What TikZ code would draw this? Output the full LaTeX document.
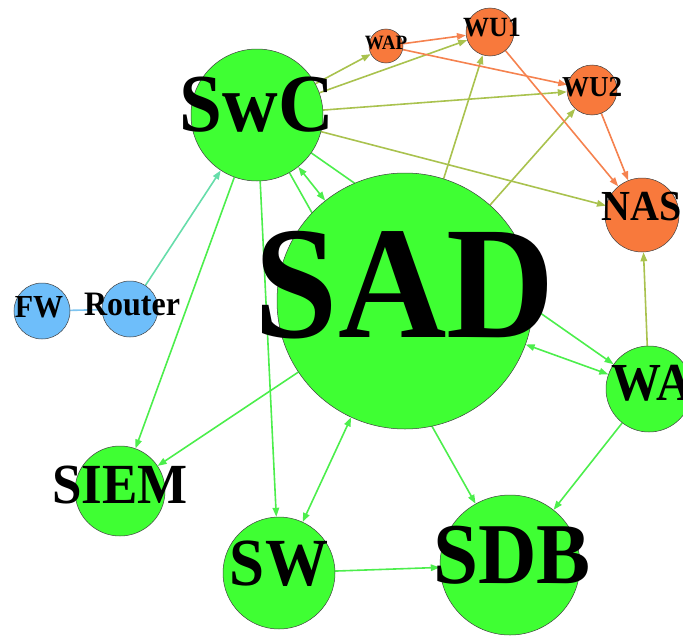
\documentclass[tikz,border=0pt]{standalone}
\usepackage{fontspec}
\setmainfont{Liberation Serif}
\usepackage{tikz}
\usetikzlibrary{arrows.meta, backgrounds}
\definecolor{nodeGreen}{HTML}{3FFF33}
\definecolor{nodeOrange}{HTML}{F8793C}
\definecolor{nodeBlue}{HTML}{6EBEFA}
\definecolor{edgeGreen}{HTML}{4CEE4C}
\definecolor{edgeOlive}{HTML}{A9C24E}
\definecolor{edgeOrange}{HTML}{F5824F}
\definecolor{edgeTeal}{HTML}{66DDAA}
\definecolor{edgeBlue}{HTML}{7EC4F0}
\newcommand{\hosttag}[2]{\scalebox{1}[1.07]{\fontsize{#1}{#1}\selectfont\bfseries #2}}

\begin{document}
\begin{tikzpicture}[x=1pt, y=-1pt,
    host/.style={circle, draw=black!75, line width=0.5pt, inner sep=0pt},
    gr/.style={host, fill=nodeGreen},
    orn/.style={host, fill=nodeOrange},
    blu/.style={host, fill=nodeBlue},
    tag/.style={inner sep=0pt},
    arr/.style={-{Triangle[length=9pt, width=6.5pt]}, line width=1.6pt},
    darr/.style={{Triangle[length=9pt, width=6.5pt]}-{Triangle[length=9pt, width=6.5pt]}, line width=1.6pt}]
    \clip (0,0) rectangle (683,637);
    % hosts
    \node[gr, minimum size=256pt, label={[tag, yshift=16pt]center:{\hosttag{150}{SAD}}}] (sad) at (405,301) {};
    \node[gr, minimum size=132pt, label={[tag, yshift=10pt]center:{\hosttag{77}{SwC}}}] (swc) at (257,115) {};
    \node[blu, minimum size=56pt, label={[tag, xshift=-3pt, yshift=4pt]center:{\hosttag{30}{FW}}}] (fw) at (42,311) {};
    \node[blu, minimum size=56pt, label={[tag, xshift=2pt, yshift=5pt]center:{\hosttag{32}{Router}}}] (router) at (130,309) {};
    \node[gr, minimum size=90pt, label={[tag, yshift=6pt]center:{\hosttag{53}{SIEM}}}] (siem) at (120,491) {};
    \node[gr, minimum size=112pt, label={[tag, yshift=9pt]center:{\hosttag{63}{SW}}}] (sw) at (279,573) {};
    \node[gr, minimum size=140pt, label={[tag, xshift=2pt, yshift=10pt]center:{\hosttag{81}{SDB}}}] (sdb) at (510,565) {};
    \node[gr, minimum size=86pt, label={[tag, xshift=3pt, yshift=6pt]center:{\hosttag{50}{WA}}}] (wa) at (649,389) {};
    \node[orn, minimum size=74pt, label={[tag, yshift=8pt]center:{\hosttag{40}{NAS}}}] (nas) at (642,215) {};
    \node[orn, minimum size=34pt, label={[tag, yshift=3pt]center:{\hosttag{19}{WAP}}}] (wap) at (386,46) {};
    \node[orn, minimum size=48pt, label={[tag, xshift=2pt, yshift=4pt]center:{\hosttag{26}{WU1}}}] (wu1) at (490,32) {};
    \node[orn, minimum size=50pt, label={[tag, yshift=3pt]center:{\hosttag{27}{WU2}}}] (wu2) at (592,90) {};
    % links
    \begin{scope}[on background layer]
    \draw[arr, edgeOlive](swc)--(wap);\draw[arr, edgeOlive](swc)--(wu1);\draw[arr, edgeOlive](swc)--(wu2);\draw[arr, edgeOlive](swc)--(nas);
    \draw[arr, edgeOlive](sad)--(wu1);\draw[arr, edgeOlive](sad)--(wu2);\draw[arr, edgeOlive](wa)--(nas);
    \draw[arr, edgeOrange](wap)--(wu1);\draw[arr, edgeOrange](wap)--(wu2);\draw[arr, edgeOrange](wu1)--(nas);\draw[arr, edgeOrange](wu2)--(nas);
    \draw[arr, edgeTeal](router)--(swc);
    \draw[line width=1.6pt, edgeBlue](fw)--(router);
    \draw[darr, edgeGreen](swc)--(sad);\draw[darr, edgeGreen](sad)--(sw);\draw[darr, edgeGreen](sad)--(wa);
    \draw[arr, edgeGreen](swc)--(siem);\draw[arr, edgeGreen](swc)--(sw);\draw[arr, edgeGreen](swc)--(sdb);\draw[arr, edgeGreen](swc)--(wa);
    \draw[arr, edgeGreen](sad)--(siem);\draw[arr, edgeGreen](wa)--(sdb);\draw[arr, edgeGreen](sw)--(sdb);
    \end{scope}
  \end{tikzpicture}
\end{document}
